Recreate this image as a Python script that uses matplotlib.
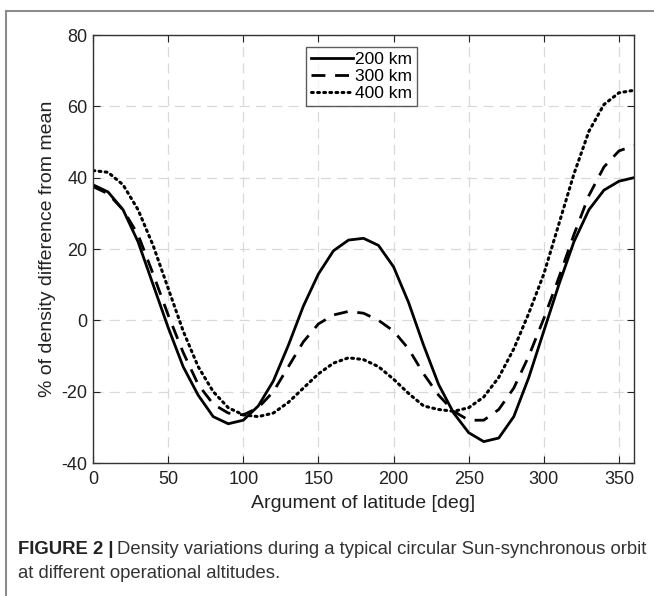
import numpy as np
import matplotlib
matplotlib.use("Agg")
import matplotlib.pyplot as plt
from matplotlib.lines import Line2D

plt.rcParams['font.family'] = ['Liberation Sans', 'DejaVu Sans']
plt.rcParams['axes.unicode_minus'] = False

# argument of latitude [deg]
arg_lat = np.arange(0, 361, 10)

# % of density difference from mean
alt_200 = [38, 36, 31, 22, 10, -2, -13, -21, -27, -29, -28, -24, -17, -7, 4, 13, 19.5,
           22.5, 23, 21, 15, 5, -7, -18, -26, -31.5, -34, -33, -27, -16, -3, 10, 22, 31,
           36.5, 39, 40]
alt_300 = [37.5, 35.5, 31, 24, 13, 1.5, -9, -18, -23.5, -26, -26.5, -24.5, -20, -13, -6,
           -1, 1.5, 2.5, 2, 0, -3, -8, -15, -21, -25.5, -28, -28, -25, -19, -10, 0.5, 12,
           24, 35, 43, 47.5, 49]
alt_400 = [42, 41.5, 38, 31, 21, 9, -3, -13, -20, -24.5, -26.5, -27, -26, -23, -19, -15,
           -12, -10.5, -11, -13, -16.5, -20.5, -24, -25, -25.5, -24.5, -21.5, -16, -8, 2,
           13, 27, 41, 53, 60.5, 63.8, 64.5]
labels = ['200 km', '300 km', '400 km']

W, H = 654, 596
fig = plt.figure(figsize=(W / 100, H / 100), dpi=100)
ax = fig.add_axes([93 / W, 1 - 463 / H, 541 / W, 428 / H])

ax.plot(arg_lat, alt_200, color='black', lw=2.0, ls='-', label=labels[0])
ax.plot(arg_lat, alt_300, color='black', lw=2.0, ls=(0, (5, 3.5)), label=labels[1])
ax.plot(arg_lat, alt_400, color='black', lw=2.2, ls=(0, (0.6, 1.4)),
        dash_capstyle='round', label=labels[2])

ax.set_xlim(0, 360)
ax.set_ylim(-40, 80)
ax.set_xticks(np.arange(0, 351, 50))
ax.set_yticks(np.arange(-40, 81, 20))
ax.tick_params(direction='in', top=True, right=True, length=5, width=0.8,
               labelsize=13, colors='#222222', pad=4)
ax.tick_params(axis='x', pad=6)
for s in ax.spines.values():
    s.set_color('#333333')
    s.set_linewidth(1.0)
ax.grid(True, color='#d9d9d9', ls=(0, (8, 5)), lw=0.9)

ax.set_xlabel('Argument of latitude [deg]', fontsize=14, color='#222222', labelpad=5)
ax.set_ylabel('% of density difference from mean', fontsize=14, color='#222222', labelpad=4)

leg = ax.legend(loc='upper center', bbox_to_anchor=(0.496, 0.972), fontsize=12.5,
                frameon=True, fancybox=False, edgecolor='#333333', handlelength=2.4,
                handletextpad=0.1, borderpad=0.3, labelspacing=0.1, borderaxespad=0)
leg.get_frame().set_linewidth(1.0)

# figure frame
fig.add_artist(Line2D([6 / W, 6 / W], [0, 1 - 11 / H], transform=fig.transFigure,
                      color='#8c8c8c', lw=1.5))
fig.add_artist(Line2D([6 / W, 1], [1 - 11 / H, 1 - 11 / H], transform=fig.transFigure,
                      color='#8c8c8c', lw=1.5))

# caption
cap_size = 13.3
t1 = fig.text(18 / W, 1 - 554 / H, 'FIGURE 2 |', fontsize=cap_size, fontweight='bold',
              color='#222222', va='baseline')
fig.canvas.draw()
bb = t1.get_window_extent()
fig.text((bb.x1 + 4) / W, 1 - 554 / H,
         'Density variations during a typical circular Sun-synchronous orbit',
         fontsize=cap_size, color='#333333', va='baseline')
fig.text(18 / W, 1 - 578 / H, 'at different operational altitudes.',
         fontsize=cap_size, color='#333333', va='baseline')

fig.savefig('out.png', dpi=100)
